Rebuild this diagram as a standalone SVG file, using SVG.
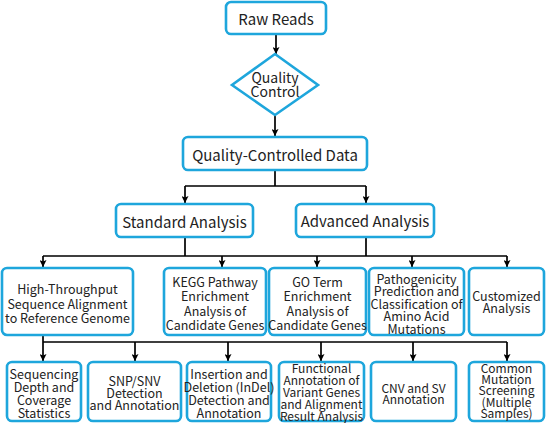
<svg xmlns="http://www.w3.org/2000/svg" width="551" height="423" viewBox="0 0 551 423">
<defs>
<style>
.box{fill:#fff;stroke:#1ea6dc;stroke-width:2.6}
.t{font-family:"Noto Sans CJK SC","Noto Sans",sans-serif;fill:#222;text-anchor:middle;dominant-baseline:central}
.l{font-size:15px}
.m{font-size:12.5px}
.s{font-size:12px}
.c{fill:none;stroke:#000;stroke-width:1.7}
</style>
<marker id="ah" viewBox="0 0 10 10" refX="10" refY="5" markerWidth="7" markerHeight="7" markerUnits="userSpaceOnUse" orient="auto">
<path d="M0,0 L10,5 L0,10 L2,5 z" fill="#000"/>
</marker>
</defs>
<rect width="551" height="423" fill="#fff"/>
<g id="connectors">
<path class="c" d="M276,34 V54" marker-end="url(#ah)"/>
<path class="c" d="M275,115 V136" marker-end="url(#ah)"/>
<path class="c" d="M275,170 V186 M185,186 H366"/>
<path class="c" d="M185,186 V203" marker-end="url(#ah)"/>
<path class="c" d="M366,186 V203" marker-end="url(#ah)"/>
<path class="c" d="M185,237 V256 M366,237 V256 M43,256 H507"/>
<path class="c" d="M43,256 V267" marker-end="url(#ah)"/>
<path class="c" d="M222,256 V267" marker-end="url(#ah)"/>
<path class="c" d="M317,256 V267" marker-end="url(#ah)"/>
<path class="c" d="M412,256 V267" marker-end="url(#ah)"/>
<path class="c" d="M507,256 V267" marker-end="url(#ah)"/>
<path class="c" d="M43,335 V342 M43,342 H507"/>
<path class="c" d="M43,342 V361" marker-end="url(#ah)"/>
<path class="c" d="M135,342 V361" marker-end="url(#ah)"/>
<path class="c" d="M228,342 V361" marker-end="url(#ah)"/>
<path class="c" d="M321,342 V361" marker-end="url(#ah)"/>
<path class="c" d="M413,342 V361" marker-end="url(#ah)"/>
<path class="c" d="M507,342 V361" marker-end="url(#ah)"/>
</g>
<g id="raw-reads">
<rect class="box" x="226" y="2" width="100" height="32" rx="5"/>
<text class="t l" x="276" y="18">Raw Reads</text>
</g>
<g id="quality-control">
<polygon class="box" points="275,54 318,85 275,115 232,85"/>
<text class="t" font-size="14" x="275" y="77">Quality</text>
<text class="t" font-size="14" x="275" y="91">Control</text>
</g>
<g id="qc-data">
<rect class="box" x="183" y="137" width="184" height="33" rx="5"/>
<text class="t l" x="275" y="154">Quality-Controlled Data</text>
</g>
<g id="standard">
<rect class="box" x="116" y="204" width="137" height="33" rx="5"/>
<text class="t l" x="184.5" y="221">Standard Analysis</text>
</g>
<g id="advanced">
<rect class="box" x="296" y="204" width="138" height="33" rx="5"/>
<text class="t l" x="365" y="220">Advanced Analysis</text>
</g>
<g id="alignment">
<rect class="box" x="2" y="268" width="131" height="67" rx="5"/>
<text class="t m" x="67.5" y="288">High-Throughput</text>
<text class="t m" x="67.5" y="303">Sequence Alignment</text>
<text class="t m" x="67.5" y="317">to Reference Genome</text>
</g>
<g id="kegg">
<rect class="box" x="164" y="268" width="102" height="67" rx="5"/>
<text class="t m" x="215" y="281">KEGG Pathway</text>
<text class="t m" x="215" y="295">Enrichment</text>
<text class="t m" x="215" y="310">Analysis of</text>
<text class="t m" x="215" y="324">Candidate Genes</text>
</g>
<g id="go">
<rect class="box" x="269" y="268" width="97" height="67" rx="5"/>
<text class="t m" x="317.5" y="281">GO Term</text>
<text class="t m" x="317.5" y="295">Enrichment</text>
<text class="t m" x="317.5" y="310">Analysis of</text>
<text class="t m" x="317.5" y="324">Candidate Genes</text>
</g>
<g id="pathogenicity">
<rect class="box" x="369" y="268" width="95" height="67" rx="5"/>
<text class="t m" x="416.5" y="278">Pathogenicity</text>
<text class="t m" x="416.5" y="290.5">Prediction and</text>
<text class="t m" x="416.5" y="303">Classification of</text>
<text class="t m" x="416.5" y="315.5">Amino Acid</text>
<text class="t m" x="416.5" y="328">Mutations</text>
</g>
<g id="customized">
<rect class="box" x="469" y="268" width="75" height="67" rx="5"/>
<text class="t m" x="506.5" y="295">Customized</text>
<text class="t m" x="506.5" y="307.5">Analysis</text>
</g>
<g id="depth">
<rect class="box" x="7" y="362" width="74" height="59" rx="5"/>
<text class="t m" x="44" y="373">Sequencing</text>
<text class="t m" x="44" y="386">Depth and</text>
<text class="t m" x="44" y="399">Coverage</text>
<text class="t m" x="44" y="412">Statistics</text>
</g>
<g id="snp">
<rect class="box" x="88" y="362" width="93" height="59" rx="5"/>
<text class="t m" x="134.5" y="380">SNP/SNV</text>
<text class="t m" x="134.5" y="392">Detection</text>
<text class="t m" x="134.5" y="404">and Annotation</text>
</g>
<g id="indel">
<rect class="box" x="187" y="362" width="84" height="59" rx="5"/>
<text class="t m" x="229" y="373">Insertion and</text>
<text class="t m" x="229" y="386">Deletion (InDel)</text>
<text class="t m" x="229" y="399">Detection and</text>
<text class="t m" x="229" y="412">Annotation</text>
</g>
<g id="functional">
<rect class="box" x="279" y="362" width="85" height="59" rx="5"/>
<text class="t s" x="321.5" y="367">Functional</text>
<text class="t s" x="321.5" y="379">Annotation of</text>
<text class="t s" x="321.5" y="391">Variant Genes</text>
<text class="t s" x="321.5" y="403">and Alignment</text>
<text class="t s" x="321.5" y="415">Result Analysis</text>
</g>
<g id="cnv">
<rect class="box" x="371" y="362" width="85" height="59" rx="5"/>
<text class="t s" x="413.5" y="387">CNV and SV</text>
<text class="t s" x="413.5" y="398.5">Annotation</text>
</g>
<g id="common">
<rect class="box" x="469" y="362" width="75" height="59" rx="5"/>
<text class="t s" x="506.5" y="367">Common</text>
<text class="t s" x="506.5" y="378">Mutation</text>
<text class="t s" x="506.5" y="389.5">Screening</text>
<text class="t s" x="506.5" y="401.5">(Multiple</text>
<text class="t s" x="506.5" y="412.5">Samples)</text>
</g>
</svg>
